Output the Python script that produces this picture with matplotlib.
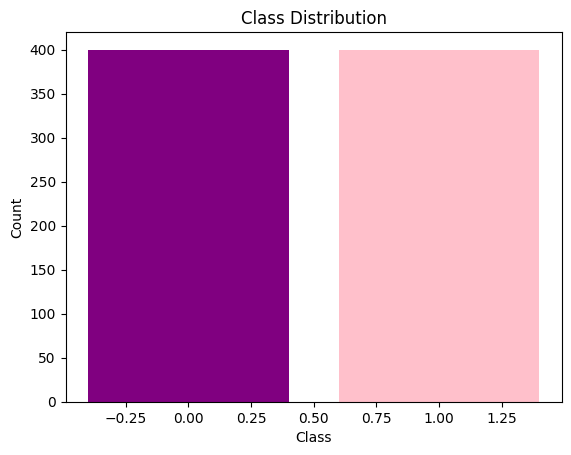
import matplotlib
matplotlib.use("Agg")
import matplotlib.pyplot as plt

classes = [0, 1]
counts = [400, 400]
colors = ["purple", "pink"]

fig, ax = plt.subplots(figsize=(6.4, 4.8), dpi=100)
ax.bar(classes, counts, color=colors)
ax.set_title("Class Distribution")
ax.set_xlabel("Class")
ax.set_ylabel("Count")
fig.savefig("out.png", bbox_inches="tight")
